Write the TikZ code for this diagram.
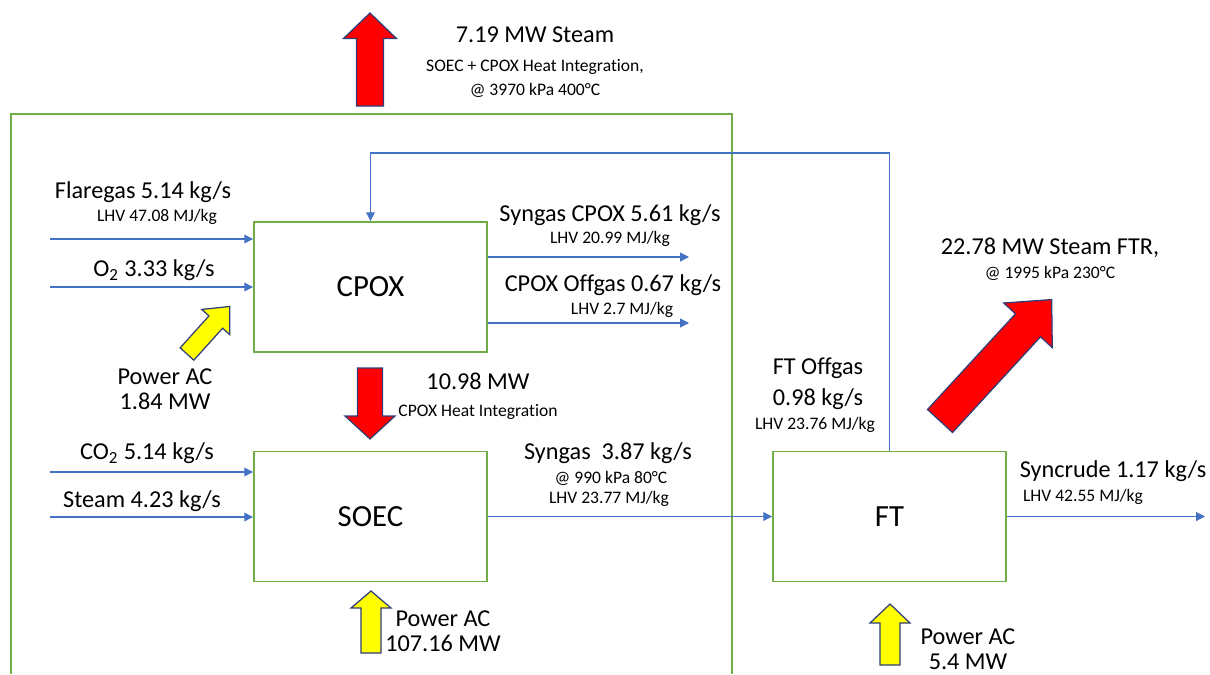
\documentclass[tikz,border=0pt]{standalone}
\usepackage{fontspec}
\setmainfont{Carlito}[Ligatures=NoCommon]
\usepackage{tikz}
\usetikzlibrary{arrows.meta,positioning,calc}
\definecolor{unitgreen}{RGB}{112,173,71}
\definecolor{flowblue}{RGB}{68,114,196}
\definecolor{heatred}{RGB}{255,0,0}
\definecolor{poweryellow}{RGB}{255,255,0}
\definecolor{edgenavy}{RGB}{47,62,120}
% block arrow: style, tail, angle, length, head length, half shaft, half head
\newcommand{\bigarrow}[7]{%
    \begin{scope}[shift={#2},rotate=#3]
        \draw[#1] (0,-#6) -- ({#4-#5},-#6) -- ({#4-#5},-#7) -- (#4,0)
            -- ({#4-#5},#7) -- ({#4-#5},#6) -- (0,#6) -- cycle;
    \end{scope}}

\begin{document}
\begin{tikzpicture}[x=0.02cm,y=-0.02cm,
    unit/.style={draw=unitgreen, line width=1.1pt, minimum width=4.66cm, minimum height=2.6cm, font=\fontsize{17.5}{20}\selectfont},
    flow/.style={draw=flowblue, line width=0.6pt, -{Triangle[length=5pt,width=5pt]}},
    big/.style={font=\fontsize{13.8}{14.5}\selectfont, align=center},
    small/.style={font=\fontsize{10}{12}\selectfont},
    heat/.style={fill=heatred, draw=edgenavy, line width=0.7pt},
    power/.style={fill=poweryellow, draw=edgenavy, line width=0.7pt}]
    \useasboundingbox (0,0) rectangle (1210,674);

    % --- Integrated SOEC + CPOX boundary ---
    \draw[unitgreen, line width=1.1pt] (11,674) -- (11,114) -- (732,114) -- (732,674);

    % --- Units ---
    \node[unit] (cpox) at (370.5,287) {CPOX};
    \node[unit] (soec) at (370.5,516.5) {SOEC};
    \node[unit] (ft) at (889.5,516.5) {FT};

    % --- Streams ---
    \coordinate (flare-in) at (50,239);
    \coordinate (o2-in) at (50,287);
    \coordinate (co2-in) at (50,472);
    \coordinate (steam-in) at (50,517);
    \coordinate (syncpox-out) at (689,257);
    \coordinate (offcpox-out) at (689,323);
    \coordinate (syncrude-out) at (1205,516.5);
    \coordinate (loop) at (889.5,153);
    \draw[flow] (flare-in) -- (flare-in -| cpox.west);
    \draw[flow] (o2-in) -- (o2-in -| cpox.west);
    \draw[flow] (co2-in) -- (co2-in -| soec.west);
    \draw[flow] (steam-in) -- (steam-in -| soec.west);
    \draw[flow] (cpox.east |- syncpox-out) -- (syncpox-out);
    \draw[flow] (cpox.east |- offcpox-out) -- (offcpox-out);
    \draw[flow] (soec.east) -- (ft.west);
    \draw[flow] (ft.east) -- (syncrude-out);
    \draw[flow] (ft.north) -- (loop) -| (cpox.north);

    % --- Heat and power ---
    \bigarrow{heat}{(370,106)}{90}{93}{25.5}{13.5}{26.5}
    \bigarrow{heat}{(370,368)}{-90}{71}{23}{12.5}{25}
    \bigarrow{heat}{(940,421)}{47.4}{165}{35}{17}{33}
    \bigarrow{power}{(187,354)}{48}{64}{21}{9.2}{18.8}
    \bigarrow{power}{(371,653)}{90}{62}{17}{10}{20}
    \bigarrow{power}{(890,665)}{90}{61}{19}{10}{20}

    % --- Labels ---
    \node[big] (steam-top) at (535,35) {7.19 MW Steam};
    \node[small] (steam-top-a) at (535,67) {SOEC + CPOX Heat Integration,};
    \node[small] (steam-top-b) at (535,90) {@ 3970 kPa 400°C};
    \node[big] (flare-lbl) at (143,192) {Flaregas 5.14 kg/s};
    \node[small] (flare-lhv) at (157,217) {LHV 47.08 MJ/kg};
    \node[big] (o2-lbl) at (154,270) {O\textsubscript{2} 3.33 kg/s};
    \node[big] (syncpox-lbl) at (610,215) {Syngas CPOX 5.61 kg/s};
    \node[small] (syncpox-lhv) at (610,239) {LHV 20.99 MJ/kg};
    \node[big] (offcpox-lbl) at (613,285) {CPOX Offgas 0.67 kg/s};
    \node[small] (offcpox-lhv) at (622,310) {LHV 2.7 MJ/kg};
    \node[big] (pcpox-lbl) at (165,389) {Power AC\\1.84 MW};
    \node[big] (heat-lbl) at (478,381) {10.98 MW};
    \node[small] (heat-sub) at (478,412) {CPOX Heat Integration};
    \node[big] (co2-lbl) at (147,453) {CO\textsubscript{2} 5.14 kg/s};
    \node[big] (steam-lbl) at (142,501) {Steam 4.23 kg/s};
    \node[big] (psoec-lbl) at (443,631) {Power AC\\107.16 MW};
    \node[big] (syn-lbl) at (608,453) {Syngas~ 3.87 kg/s};
    \node[small] (syn-cond) at (611,478) {@ 990 kPa 80°C};
    \node[small] (syn-lhv) at (609,499) {LHV 23.77 MJ/kg};
    \node[big] (offft-lbl) at (818,384) {FT Offgas\\[3pt]0.98 kg/s};
    \node[small] (offft-lhv) at (815,425) {LHV 23.76 MJ/kg};
    \node[big] (crude-lbl) at (1113,471) {Syncrude 1.17 kg/s};
    \node[small] (crude-lhv) at (1083,497) {LHV 42.55 MJ/kg};
    \node[big] (pft-lbl) at (968,649) {Power AC\\5.4 MW};
    \node[big] (ftr-lbl) at (1050,248) {22.78 MW Steam FTR,};
    \node[small] (ftr-cond) at (1050,273) {@ 1995 kPa 230°C};
\end{tikzpicture}
\end{document}
